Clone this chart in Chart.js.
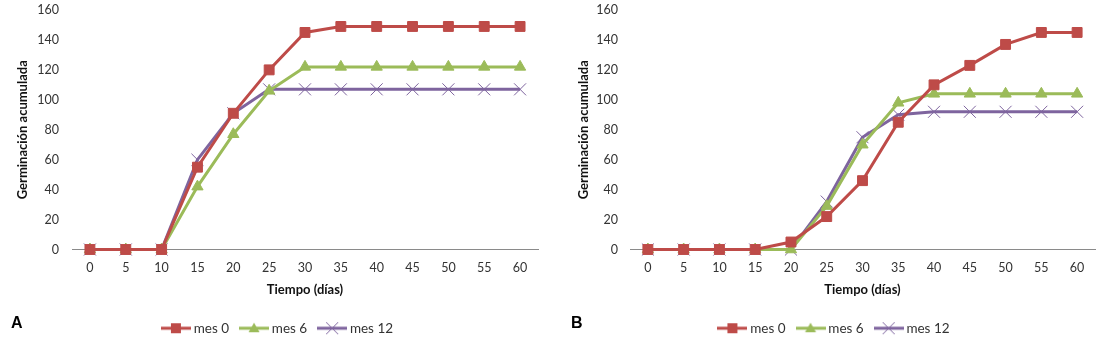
<!DOCTYPE html>
<html><head><meta charset="utf-8">
<script src="https://cdn.jsdelivr.net/npm/chart.js@4/dist/chart.umd.min.js"></script>
<style>
html,body{margin:0;padding:0;background:#fff;width:1100px;height:342px;overflow:hidden}
.wrap{position:absolute;top:0;width:550px;height:345px}
.lbl{position:absolute;font:bold 16px "Liberation Sans",Arial,sans-serif;line-height:16px;color:#000}
</style></head><body>
<div class="wrap" style="left:0"><canvas id="cA" width="550" height="345"></canvas></div>
<div class="wrap" style="left:550px"><canvas id="cB" width="550" height="345"></canvas></div>
<div class="lbl" style="left:11px;top:315px">A</div>
<div class="lbl" style="left:571px;top:315px">B</div>
<script>
// ---- data ----
const dias = ['0','5','10','15','20','25','30','35','40','45','50','55','60'];
const seriesNames = ['mes 0','mes 6','mes 12'];
const yTicks = [0,20,40,60,80,100,120,140,160];
const A_mes0  = [0,0,0,55,91,120,145,149,149,149,149,149,149];
const A_mes6  = [0,0,0,42,77,106,122,122,122,122,122,122,122];
const A_mes12 = [0,0,0,60,91,107,107,107,107,107,107,107,107];
const B_mes0  = [0,0,0,0,5,22,46,85,110,123,137,145,145];
const B_mes6  = [0,0,0,0,0,29,70,98,104,104,104,104,104];
const B_mes12 = [0,0,0,0,0,32,75,90,92,92,92,92,92];
const yTitle = 'Germinación acumulada';
const xTitle = 'Tiempo (días)';

// ---- styles ----
const colors = ['#BE4B48','#9BBB59','#7E649E'];
const styles = ['rect','triangle','crossRot'];
const radii = [7,6.5,8.5];

Chart.defaults.font.family = 'Lato';
Chart.defaults.color = '#333';

function legendIcon(i){
  const c = document.createElement('canvas');
  c.width = 30; c.height = 14;
  const g = c.getContext('2d');
  g.strokeStyle = colors[i]; g.lineWidth = 3;
  g.beginPath(); g.moveTo(0,7); g.lineTo(30,7); g.stroke();
  g.fillStyle = colors[i];
  if(i===0){ g.fillRect(10,2,10,10); }
  else if(i===1){ g.beginPath(); g.moveTo(15,1.5); g.lineTo(20.5,11); g.lineTo(9.5,11); g.closePath(); g.fill(); }
  else { g.lineWidth=1; g.beginPath(); g.moveTo(9,1); g.lineTo(21,13); g.moveTo(21,1); g.lineTo(9,13); g.stroke(); }
  return c;
}
const icons = [0,1,2].map(legendIcon);

function makeChart(id, data, axisW, yTitlePad, tickPad, padRight, legendShift){
  const datasets = data.map((d,i)=>({
    label: seriesNames[i],
    data: d,
    borderColor: colors[i],
    backgroundColor: colors[i],
    borderWidth: 3,
    pointStyle: styles[i],
    pointRadius: radii[i],
    pointHoverRadius: radii[i],
    pointBorderWidth: 1,
    pointBorderColor: colors[i],
    pointBackgroundColor: colors[i],
    tension: 0,
    clip: false
  }));
  return new Chart(document.getElementById(id), {
    type: 'line',
    data: { labels: dias, datasets },
    plugins: [{
      id: 'legendShift',
      afterLayout(chart){ if(chart.legend){ chart.legend.left += legendShift; chart.legend.right += legendShift; } }
    }],
    options: {
      responsive: false,
      animation: false,
      events: [],
      layout: { autoPadding: false, padding: { top: 10, bottom: 0, left: 0, right: padRight } },
      plugins: {
        tooltip: { enabled: false },
        legend: {
          position: 'bottom',
          labels: {
            usePointStyle: true,
            pointStyleWidth: 22,
            padding: 14,
            font: { size: 13.5 },
            color: '#333',
            generateLabels(chart){
              const items = Chart.defaults.plugins.legend.labels.generateLabels(chart);
              items.forEach((it,i)=>{ it.pointStyle = icons[i]; });
              return items;
            }
          }
        }
      },
      scales: {
        x: {
          offset: true,
          grid: { display: false, drawTicks: false },
          border: { display: true, color: '#8a8a8a', width: 1 },
          ticks: { padding: 11, font: { size: 12.5 }, color: '#333', maxRotation: 0 },
          title: { display: true, text: xTitle, font: { size: 13, weight: 'bold' }, color: '#111', padding: { top: 0, bottom: 10 } },
          afterFit(s){ s.height = 58; s.paddingLeft = 0; s.paddingRight = 0; }
        },
        y: {
          min: 0, max: 160,
          afterBuildTicks(s){ s.ticks = yTicks.map(v=>({value:v})); },
          grid: { display: false, drawTicks: false },
          border: { display: false },
          ticks: { padding: tickPad, font: { size: 12.5 }, color: '#333' },
          title: { display: true, text: yTitle, font: { size: 13, weight: 'bold' }, color: '#111', padding: { top: yTitlePad, bottom: 0 } },
          afterFit(s){ s.width = axisW; s.paddingTop = 0; s.paddingBottom = 0; }
        }
      }
    }
  });
}

makeChart('cA', [A_mes0, A_mes6, A_mes12], 72, 15, 13, 12, 10);
makeChart('cB', [B_mes0, B_mes6, B_mes12], 80, 26, 12, 5, 13);
</script>
</body></html>
